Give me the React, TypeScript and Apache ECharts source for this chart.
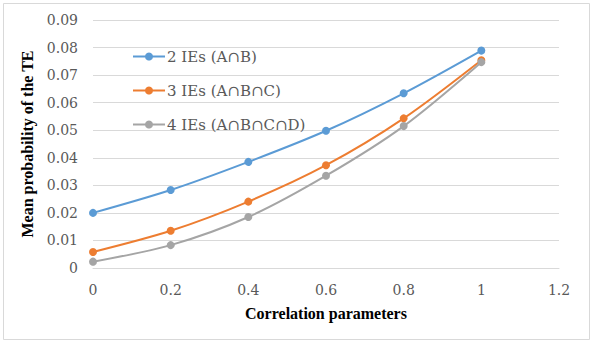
import React, { useEffect, useRef } from "react";
import * as echarts from "echarts";

const correlation = [0, 0.2, 0.4, 0.6, 0.8, 1];
const twoIEs = [0.02, 0.0283, 0.0385, 0.0498, 0.0634, 0.0789];
const threeIEs = [0.0058, 0.0135, 0.0241, 0.0373, 0.0543, 0.0754];
const fourIEs = [0.0023, 0.0083, 0.0185, 0.0335, 0.0515, 0.0747];
const seriesNames = ["2 IEs (A∩B)", "3 IEs (A∩B∩C)", "4 IEs (A∩B∩C∩D)"];
const colors = ["#5b9bd5", "#ed7d31", "#a5a5a5"];

const titleFont = "Liberation Serif";
const labelFont = "DejaVu Serif";

export default function App() {
  const ref = useRef<HTMLDivElement>(null);

  useEffect(() => {
    if (!ref.current) return;
    const chart = echarts.init(ref.current, undefined, { renderer: "svg" });
    const values = [twoIEs, threeIEs, fourIEs];
    chart.setOption({
      animation: false,
      backgroundColor: "#ffffff",
      textStyle: { fontFamily: labelFont },
      graphic: [
        {
          type: "rect",
          shape: { x: 3.5, y: 3.5, width: 586, height: 336 },
          style: { fill: "none", stroke: "#d9d9d9", lineWidth: 1 },
          silent: true,
        },
      ],
      grid: { left: 93, right: 34, top: 20, bottom: 76 },
      legend: {
        orient: "vertical",
        left: 127,
        top: 44,
        itemGap: 19,
        itemWidth: 32,
        itemHeight: 10,
        textStyle: { fontFamily: labelFont, fontSize: 15, color: "#595959", padding: [0, 0, 0, -3] },
        data: seriesNames,
      },
      xAxis: {
        type: "value",
        min: 0,
        max: 1.2,
        interval: 0.2,
        name: "Correlation parameters",
        nameLocation: "middle",
        nameGap: 37,
        nameTextStyle: { fontFamily: titleFont, fontSize: 16, fontWeight: "bold", color: "#000" },
        axisLine: { show: true, lineStyle: { color: "#d9d9d9" } },
        axisTick: { show: false },
        splitLine: { show: false },
        axisLabel: {
          fontFamily: labelFont,
          fontSize: 14,
          color: "#595959",
          margin: 15,
          formatter: (v: number) => String(Math.round(v * 10) / 10),
        },
      },
      yAxis: {
        type: "value",
        min: 0,
        max: 0.09,
        interval: 0.01,
        name: "Mean probability of the TE",
        nameLocation: "middle",
        nameGap: 47,
        nameTextStyle: { fontFamily: titleFont, fontSize: 16, fontWeight: "bold", color: "#000" },
        axisLine: { show: false },
        axisTick: { show: false },
        splitLine: { lineStyle: { color: "#d9d9d9" } },
        axisLabel: {
          fontFamily: labelFont,
          fontSize: 14,
          color: "#595959",
          margin: 15,
          formatter: (v: number) => (v === 0 ? "0" : v.toFixed(2)),
        },
      },
      series: seriesNames.map((name, i) => ({
        name,
        type: "line",
        smooth: 0.3,
        symbol: "circle",
        symbolSize: 8,
        color: colors[i],
        lineStyle: { width: 2, color: colors[i] },
        itemStyle: { color: colors[i] },
        data: correlation.map((x, j) => [x, values[i][j]]),
      })),
    });
    return () => chart.dispose();
  }, []);

  return (
    <div
      ref={ref}
      style={{ position: "fixed", left: 0, top: 0, width: 593, height: 344 }}
    />
  );
}
